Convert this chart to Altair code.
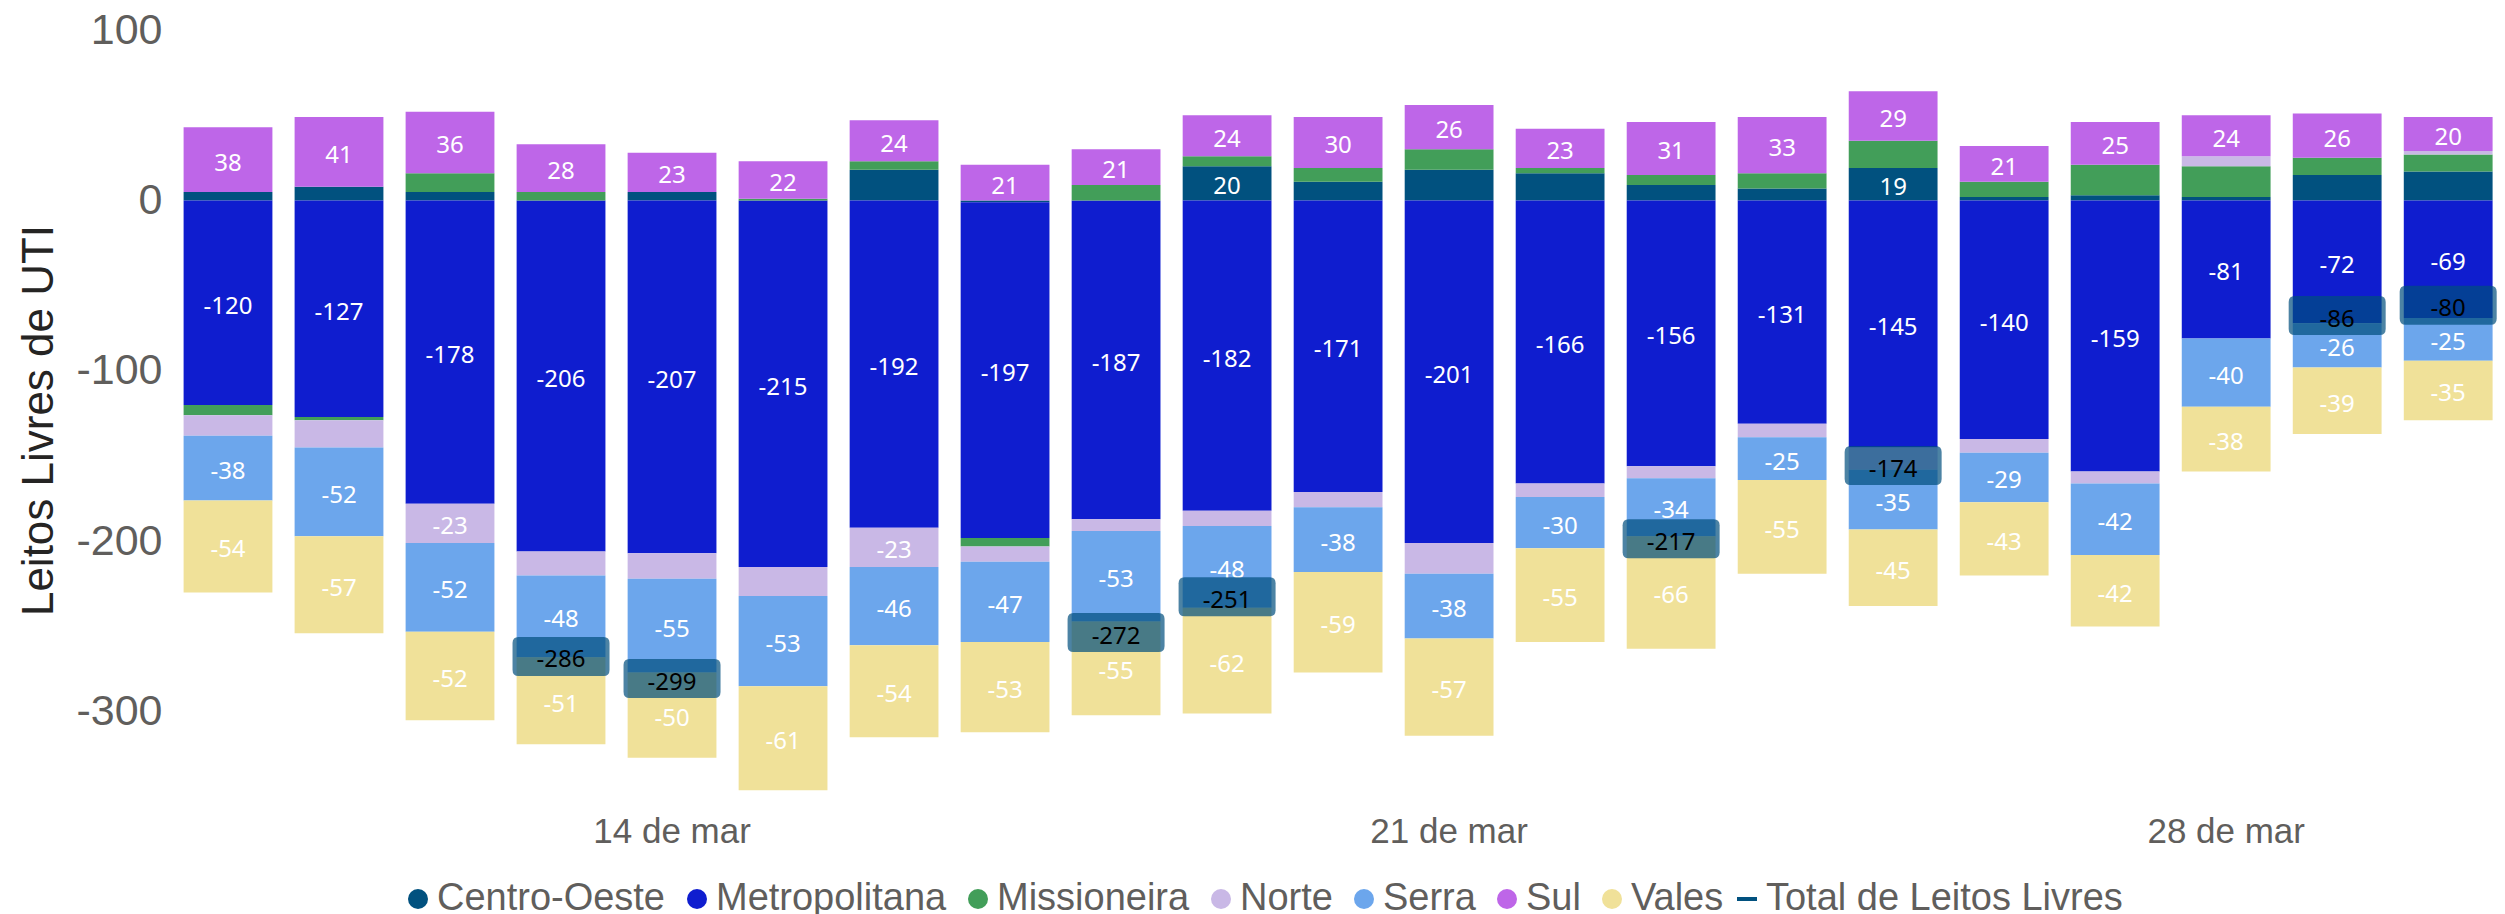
import altair as alt
import pandas as pd

# ---------------- data ----------------
datas = ["10 de mar", "11 de mar", "12 de mar", "13 de mar", "14 de mar", "15 de mar",
         "16 de mar", "17 de mar", "18 de mar", "19 de mar", "20 de mar", "21 de mar",
         "22 de mar", "23 de mar", "24 de mar", "25 de mar", "26 de mar", "27 de mar",
         "28 de mar", "29 de mar", "30 de mar"]

regioes = ["Centro-Oeste", "Metropolitana", "Missioneira", "Norte", "Serra", "Sul", "Vales"]

centro_oeste = [5, 8, 5, 0, 5, 0, 18, -1, 0, 20, 11, 18, 16, 9, 7, 19, 2, 3, 2, 15, 17]
metropolitana = [-120, -127, -178, -206, -207, -215, -192, -197, -187, -182, -171,
                 -201, -166, -156, -131, -145, -140, -159, -81, -72, -69]
missioneira = [-6, -2, 11, 5, 0, 1, 5, -5, 9, 6, 8, 12, 3, 6, 9, 16, 9, 18, 18, 10, 10]
norte = [-12, -16, -23, -14, -15, -17, -23, -9, -7, -9, -9, -18, -8, -7, -8, -13, -8, -7, 6, 0, 2]
serra = [-38, -52, -52, -48, -55, -53, -46, -47, -53, -48, -38, -38, -30, -34, -25, -35,
         -29, -42, -40, -26, -25]
sul = [38, 41, 36, 28, 23, 22, 24, 21, 21, 24, 30, 26, 23, 31, 33, 29, 21, 25, 24, 26, 20]
vales = [-54, -57, -52, -51, -50, -61, -54, -53, -55, -62, -59, -57, -55, -66, -55, -45,
         -43, -42, -38, -39, -35]

# dates whose "Total de Leitos Livres" label is visible in the reference
datas_total_rotulo = ["13 de mar", "14 de mar", "18 de mar", "19 de mar",
                      "23 de mar", "25 de mar", "29 de mar", "30 de mar"]
rotulos_eixo_x = ["14 de mar", "21 de mar", "28 de mar"]
ticks_y = [100, 0, -100, -200, -300]

serie_total = "Total de Leitos Livres"
cores = ["#01517F", "#0F1DCF", "#429E59", "#C9B8E6", "#6CA6EC", "#BE66E8", "#F0E199"]
cor_total = "#01517F"

# ---------------- table ----------------
series = [centro_oeste, metropolitana, missioneira, norte, serra, sul, vales]
rows = []
for reg, vals in zip(regioes, series):
    for d, v in zip(datas, vals):
        rows.append({"data": d, "regiao": reg, "valor": v})
df = pd.DataFrame(rows)

# ---------------- styling ----------------
AX_FONT = "Liberation Sans"
LBL_FONT = "Noto Sans"
GRAY = "#605E5C"

color_scale = alt.Scale(domain=regioes, range=cores)
y_scale = alt.Scale(domain=[-350, 100], nice=False, zero=False)
x_scale = alt.Scale(paddingInner=0.2, paddingOuter=0)

box_path = ("M-0.876,-0.402H0.876Q1,-0.402 1,-0.278V0.278Q1,0.402 0.876,0.402"
            "H-0.876Q-1,0.402 -1,0.278V-0.278Q-1,-0.402 -0.876,-0.402Z")

x_axis = alt.Axis(values=rotulos_eixo_x, title=None, labelAngle=0, ticks=False, tickSize=0,
                  domain=False, grid=False, labelPadding=18, labelFontSize=35,
                  labelFont=AX_FONT, labelColor=GRAY)
y_axis = alt.Axis(values=ticks_y, grid=False, domain=False, ticks=False, tickSize=0,
                  labelPadding=21.6, labelFontSize=43, labelFont=AX_FONT, labelColor=GRAY,
                  labelExpr="toString(datum.value)",
                  title="Leitos Livres de UTI", titleFont=AX_FONT, titleFontSize=44,
                  titleFontWeight="normal", titleColor="#252423", titleAngle=270,
                  titleAlign="center", titleBaseline="alphabetic", titleX=-131, titleY=390)

x_enc = alt.X("data:N", sort=datas, scale=x_scale, axis=x_axis)

base = (alt.Chart(df)
        .transform_stack(stack="valor", groupby=["data"], as_=["v0", "v1"],
                         sort=[alt.SortField("regiao", order="ascending")])
        .transform_calculate(mid="(datum.v0 + datum.v1) / 2",
                             rotulo="toString(datum.valor)"))

legend_regioes = alt.Legend(title=None, orient="none", legendX=214.4, legendY=850,
                            direction="horizontal", labelFont=AX_FONT, labelFontSize=38,
                            labelColor=GRAY, labelLimit=0, labelOffset=0, symbolOffset=1,
                            columnPadding=11,
                            symbolType="circle", symbolSize=400, symbolStrokeWidth=0,
                            symbolOpacity=1, padding=0)

bars = base.mark_bar().encode(
    x=x_enc,
    y=alt.Y("v0:Q", scale=y_scale, axis=y_axis),
    y2="v1:Q",
    color=alt.Color("regiao:N", scale=color_scale, legend=legend_regioes),
)

labels = base.transform_filter("abs(datum.valor) >= 19").mark_text(
    color="white", font=LBL_FONT, fontSize=24, dy=4
).encode(
    x=x_enc,
    y=alt.Y("mid:Q", scale=y_scale, axis=y_axis),
    text="rotulo:N",
)

totals = (alt.Chart(df)
          .transform_aggregate(total="sum(valor)", groupby=["data"])
          .transform_filter(alt.FieldOneOfPredicate(field="data", oneOf=datas_total_rotulo))
          .transform_calculate(rotulo="toString(datum.total)"))

boxes = totals.mark_point(shape=box_path, size=9409, filled=True, color="#004E7E",
                          opacity=0.7, strokeWidth=0, yOffset=-31.5).encode(
    x=x_enc,
    y=alt.Y("total:Q", scale=y_scale, axis=y_axis),
)

total_text = totals.mark_text(color="black", font=LBL_FONT, fontSize=24,
                              yOffset=-31.5, dy=4).encode(
    x=x_enc,
    y=alt.Y("total:Q", scale=y_scale, axis=y_axis),
    text="rotulo:N",
)

legend_total = alt.Legend(title=None, orient="none", legendX=1542.4, legendY=850,
                          direction="horizontal", labelFont=AX_FONT, labelFontSize=38,
                          labelColor=GRAY, labelLimit=0, labelOffset=0, symbolOffset=2,
                          symbolType="stroke", symbolSize=400, symbolStrokeWidth=4,
                          symbolOpacity=1, padding=0)

total_legend_layer = (alt.Chart(df)
                      .transform_aggregate(total="sum(valor)", groupby=["data"])
                      .transform_calculate(serie="'" + serie_total + "'")
                      .mark_line(strokeWidth=4)
                      .encode(x=alt.value(0), y=alt.value(-3000),
                              stroke=alt.Stroke("serie:N",
                                                scale=alt.Scale(domain=[serie_total],
                                                                range=[cor_total]),
                                                legend=legend_total)))

chart = (alt.layer(bars, labels, boxes, total_text, total_legend_layer)
         .properties(width=2309, height=767,
                     autosize=alt.AutoSizeParams(type="none"),
                     padding={"left": 175.6, "top": 22, "right": 4, "bottom": 125},
                     background="white")
         .configure_view(stroke=None))

chart.save("out.html", embed_options={"renderer": "svg", "actions": False})
